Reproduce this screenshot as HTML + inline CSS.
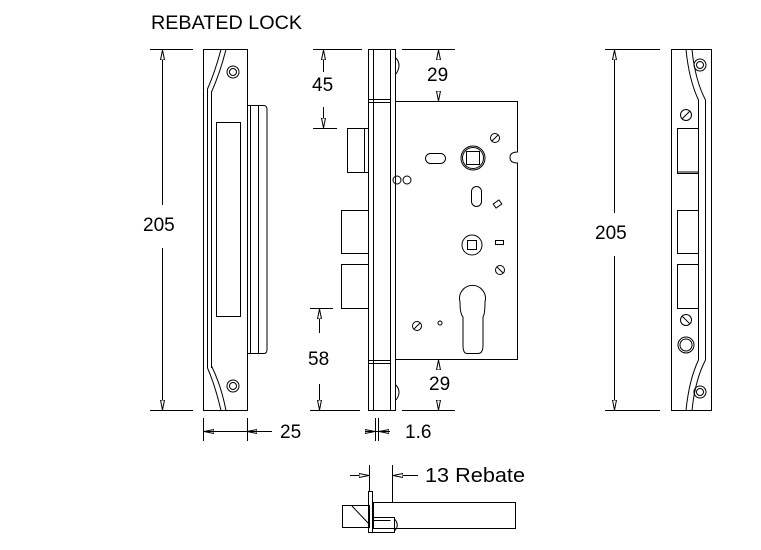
<!DOCTYPE html>
<html><head><meta charset="utf-8"><style>
html,body{margin:0;padding:0;background:#fff;}
svg{display:block}
text{font-family:"Liberation Sans",sans-serif;fill:#000}
</style></head><body>
<svg width="761" height="550" viewBox="0 0 761 550" xmlns="http://www.w3.org/2000/svg">
<defs>
<marker id="a" viewBox="0 0 10 6" refX="10" refY="3" markerWidth="10" markerHeight="6" orient="auto" markerUnits="userSpaceOnUse">
<path d="M0,1 L10,3 L0,5 Z" fill="#fff" stroke="#000" stroke-width="1"/></marker>
</defs>
<g fill="none" stroke="#000" stroke-width="1">
<!-- LEFT PLATE -->
<rect x="203.5" y="49.5" width="44" height="361"/>
<path d="M247.5,105.5 H264 Q267,105.5 267,110 V349 Q267,353.5 264,353.5 H247.5"/>
<line x1="250.5" y1="106" x2="250.5" y2="353"/>
<line x1="258.5" y1="106" x2="258.5" y2="353"/>
<rect x="216.5" y="122.5" width="24" height="194"/>
<path d="M207.5,368 V89 Q215,72 221,49.5"/>
<path d="M211.5,368 V92 Q220,73 226,49.5"/>
<path d="M207.5,368 Q215,385 221,410.5"/>
<path d="M211.5,366 Q221,385 226,410.5"/>
<circle cx="233" cy="72" r="6"/><circle cx="233" cy="72" r="3.5"/>
<circle cx="233" cy="386" r="6"/><circle cx="233" cy="386" r="3.5"/>
<line x1="150" y1="49.5" x2="193" y2="49.5"/>
<line x1="150" y1="410.5" x2="193" y2="410.5"/>
<line x1="162.5" y1="205" x2="162.5" y2="50" marker-end="url(#a)"/>
<line x1="162.5" y1="248" x2="162.5" y2="410" marker-end="url(#a)"/>
<line x1="203.5" y1="418" x2="203.5" y2="441"/>
<line x1="247.5" y1="418" x2="247.5" y2="441"/>
<line x1="225" y1="431.5" x2="204" y2="431.5" marker-end="url(#a)"/>
<line x1="272" y1="431.5" x2="247" y2="431.5" marker-end="url(#a)"/>
<line x1="203.5" y1="431.5" x2="272" y2="431.5"/>

<!-- MIDDLE LOCK -->
<rect x="368.5" y="49.5" width="27" height="361"/>
<line x1="373.5" y1="50" x2="373.5" y2="410"/>
<line x1="390.5" y1="50" x2="390.5" y2="410"/>
<line x1="368" y1="99.5" x2="391" y2="99.5"/><line x1="368" y1="102.5" x2="391" y2="102.5"/>
<line x1="368" y1="360.5" x2="391" y2="360.5"/><line x1="368" y1="363.5" x2="391" y2="363.5"/>
<path d="M396,58 Q402,65 396,74"/>
<path d="M396,385 Q402,392 396,400"/>
<path d="M395.5,101.5 H517.5 V152 Q510,152 510,157.5 Q510,163 517.5,163 V359.5 H395.5"/>
<rect x="347.5" y="128.5" width="21" height="44"/>
<line x1="364.5" y1="129" x2="364.5" y2="172"/>
<rect x="341.5" y="210.5" width="27" height="43"/>
<rect x="341.5" y="264.5" width="27" height="44"/>
<rect x="425.5" y="153.5" width="20" height="10" rx="5"/>
<circle cx="473" cy="158" r="12"/><circle cx="473" cy="158" r="10.5"/>
<rect x="466.5" y="151.5" width="13" height="13"/>
<circle cx="495" cy="138" r="4.5"/><line x1="492" y1="141" x2="498" y2="135"/>
<circle cx="397" cy="180" r="4"/><circle cx="407" cy="180" r="4"/>
<rect x="471.5" y="186.5" width="10" height="20" rx="5"/>
<rect x="494" y="201.5" width="7" height="5" transform="rotate(-35 497.5 204)"/>
<circle cx="472" cy="245" r="10"/>
<rect x="467.5" y="240.5" width="9" height="9"/>
<rect x="495.5" y="240.5" width="8" height="4"/>
<circle cx="500" cy="270" r="4.5"/><line x1="497" y1="267" x2="503" y2="273"/>
<path d="M467,353.5 Q463,353.5 463,345 V317 Q460,314 460,302 A13,13 0 1 1 485,302 Q485,314 483,317 V345 Q483,353.5 478,353.5 Z"/>
<circle cx="417" cy="326" r="4.5"/><line x1="414" y1="329" x2="420" y2="323"/>
<circle cx="440" cy="323" r="2"/>
<!-- dims middle -->
<line x1="313" y1="49.5" x2="362" y2="49.5"/>
<line x1="313" y1="128.5" x2="337" y2="128.5"/>
<line x1="323.5" y1="72" x2="323.5" y2="50" marker-end="url(#a)"/>
<line x1="323.5" y1="107" x2="323.5" y2="128" marker-end="url(#a)"/>
<line x1="310" y1="308.5" x2="333" y2="308.5"/>
<line x1="310" y1="410.5" x2="360" y2="410.5"/>
<line x1="319.5" y1="333" x2="319.5" y2="309" marker-end="url(#a)"/>
<line x1="319.5" y1="384" x2="319.5" y2="410" marker-end="url(#a)"/>
<line x1="402" y1="49.5" x2="455" y2="49.5"/>
<line x1="402" y1="410.5" x2="455" y2="410.5"/>
<line x1="438.5" y1="58" x2="438.5" y2="50" marker-end="url(#a)"/>
<line x1="438.5" y1="92" x2="438.5" y2="101" marker-end="url(#a)"/>
<line x1="438.5" y1="368" x2="438.5" y2="360" marker-end="url(#a)"/>
<line x1="438.5" y1="402" x2="438.5" y2="410" marker-end="url(#a)"/>
<line x1="375.5" y1="418" x2="375.5" y2="441"/>
<line x1="378.5" y1="418" x2="378.5" y2="441"/>
<line x1="365" y1="431.5" x2="375" y2="431.5" marker-end="url(#a)"/>
<line x1="390" y1="431.5" x2="379" y2="431.5" marker-end="url(#a)"/>
<line x1="365" y1="431.5" x2="390" y2="431.5"/>

<!-- RIGHT PLATE -->
<rect x="671.5" y="49.5" width="40" height="361"/>
<line x1="698.5" y1="100" x2="698.5" y2="360"/>
<line x1="705.5" y1="100" x2="705.5" y2="360"/>
<path d="M705.5,100 Q695,80 692,49.5"/><path d="M698.5,100 Q689,80 686,49.5"/>
<path d="M705.5,360 Q695,380 692,410.5"/><path d="M698.5,360 Q689,380 686,410.5"/>
<circle cx="700" cy="65" r="6"/><circle cx="700" cy="65" r="3.5"/>
<circle cx="700" cy="392" r="6"/><circle cx="700" cy="392" r="3.5"/>
<circle cx="686" cy="115" r="5.5"/><line x1="682" y1="119" x2="690" y2="111"/>
<rect x="677.5" y="128.5" width="21" height="45"/><line x1="678" y1="172" x2="698" y2="172"/>
<rect x="677.5" y="210.5" width="21" height="43"/>
<rect x="677.5" y="264.5" width="21" height="44"/>
<circle cx="686" cy="320" r="5.5"/><line x1="682" y1="316" x2="690" y2="324"/>
<circle cx="686" cy="345" r="8"/><circle cx="686" cy="345" r="6"/>
<line x1="605" y1="49.5" x2="660" y2="49.5"/>
<line x1="605" y1="410.5" x2="660" y2="410.5"/>
<line x1="614.5" y1="213" x2="614.5" y2="50" marker-end="url(#a)"/>
<line x1="614.5" y1="256" x2="614.5" y2="410" marker-end="url(#a)"/>

<!-- BOTTOM VIEW -->
<rect x="373.5" y="502.5" width="142" height="26"/>
<rect x="342.5" y="505.5" width="27" height="22"/>
<line x1="352" y1="506" x2="369" y2="524"/>
<rect x="368.5" y="491.5" width="4" height="41"/>
<path d="M372.5,517.5 H394.5 V532.5 H372.5"/>
<path d="M372.5,520.5 H390.5"/>
<path d="M394.5,519 Q400,525 394.5,531"/>
<line x1="369.5" y1="465" x2="369.5" y2="491"/>
<line x1="392.5" y1="465" x2="392.5" y2="502"/>
<line x1="350" y1="475.5" x2="369" y2="475.5" marker-end="url(#a)"/>
<line x1="418" y1="475.5" x2="393" y2="475.5" marker-end="url(#a)"/>
</g>
<text x="151" y="29" font-size="19" textLength="151" lengthAdjust="spacingAndGlyphs">REBATED LOCK</text>
<text x="143" y="231" font-size="19">205</text>
<text x="595" y="239" font-size="19">205</text>
<text x="280" y="438" font-size="19">25</text>
<text x="312" y="91" font-size="19">45</text>
<text x="308" y="365" font-size="19">58</text>
<text x="427" y="81" font-size="19">29</text>
<text x="429" y="390" font-size="19">29</text>
<text x="405" y="438" font-size="19">1.6</text>
<text x="425" y="482" font-size="20" textLength="100" lengthAdjust="spacingAndGlyphs">13 Rebate</text>
</svg>
</body></html>
